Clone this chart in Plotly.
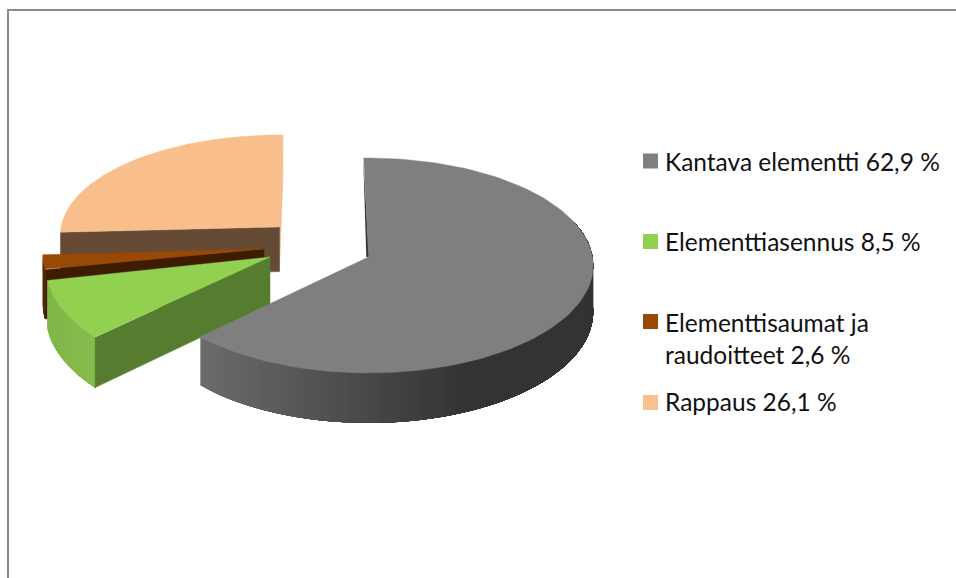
import numpy as np
import plotly.graph_objects as go

# Chart data
names = ["Kantava elementti", "Elementtiasennus", "Elementtisaumat ja<br>raudoitteet", "Rappaus"]
values = [62.9, 8.5, 2.6, 26.1]

# Fill colours per slice: top face, outer wall (start, end), cut wall
top_colors = ["#7F7F7F", "#92D050", "#984807", "#F8BF8D"]
outer_colors = [("#6C6C6C", "#333333"), ("#7FB548", "#85BB4D"), ("#5A2A02", "#5A2A02"), None]
cut_colors = ["#333333", "#567D2F", "#3E1C00", "#654A36"]
legend_colors = ["#7F7F7F", "#92D050", "#984807", "#FAC08F"]

# Projection of the tilted pie onto the page
RADIUS, MINOR, PERSPECTIVE = 224.0, 106.8, 0.0791
DEPTH = 46.0
START_ANGLE = -1.6
# Exploded position and per-slice adjustments: centre x/y, x scale, y scale, turn, depth scale
placement = [
    (368.5, 257.0, 1.00, 1.00, 0.3, 1.00),
    (270.0, 257.0, 1.00, 1.06, 2.8, 1.03),
    (264.0, 249.0, 0.985, 0.85, 1.6, 1.05),
    (279.5, 227.0, 0.975, 0.93, 2.2, 0.97),
]
DARK_FROM_X = 470.0  # the large slice's wall reaches its darkest shade here


def project(index, theta_deg, drop=0.0):
    cx, cy, sx, sy, turn, ds = placement[index]
    t = np.radians(np.asarray(theta_deg, dtype=float) + turn)
    v = -np.cos(t)
    s = 1.0 / (1.0 - PERSPECTIVE * v)
    x = cx + RADIUS * sx * np.sin(t) * s
    y = cy + MINOR * sy * v * s + DEPTH * ds * s * drop
    return x, y


def apex(index, drop=0.0):
    cx, cy, _, _, _, ds = placement[index]
    return cx, cy + DEPTH * ds * drop


def mix(c0, c1, f):
    a = [int(c0[i:i + 2], 16) for i in (1, 3, 5)]
    b = [int(c1[i:i + 2], 16) for i in (1, 3, 5)]
    return "#" + "".join(f"{round(p + (q - p) * f):02X}" for p, q in zip(a, b))


def poly(x, y, color, edge=0.0):
    fig.add_trace(go.Scatter(
        x=list(x), y=list(y), mode="lines", fill="toself", fillcolor=color,
        line=dict(color=color, width=edge), hoverinfo="skip", showlegend=False,
    ))


fig = go.Figure()

edges = START_ANGLE + np.concatenate([[0.0], np.cumsum(values)]) * 3.6

# Back-to-front painting order so nearer slices cover farther ones
for i in [3, 2, 1, 0]:
    a0, a1 = edges[i], edges[i + 1]
    ax0, ay0 = apex(i)
    ax1, ay1 = apex(i, 1.0)

    # Outer wall, shaded in overlapping strips painted from the far end back to the start
    if outer_colors[i] is not None:
        lo = max(a0, 70.0)
        n = max(2, int((a1 - lo) / 1.5))
        steps = np.linspace(lo, a1, n + 1)
        x_end = project(i, a1)[0]
        for j in range(n):
            stop = n - j
            th = np.linspace(lo, steps[stop], stop + 2)
            xt, yt = project(i, th)
            xb, yb = project(i, th, 1.0)
            mid = steps[stop - 1]
            if i == 0:
                f = np.clip((project(0, mid)[0] - x_end) / (DARK_FROM_X - x_end), 0, 1)
            else:
                f = (a1 - mid) / (a1 - lo)
            c = mix(outer_colors[i][0], outer_colors[i][1], f)
            poly(np.r_[xt, xb[::-1], xt[0]], np.r_[yt, yb[::-1], yt[0]], c)

    # Cut wall along the end edge of the last sector, just showing past its rim
    if i == 3:
        xr0, yr0 = project(i, a1)
        xr1, yr1 = project(i, a1, 1.0)
        poly([xr0, xr1, ax1, ax0, xr0], [yr0, yr1, ay1, ay0, yr0], "#F0BC8E", 0.5)

    # Cut wall along the start edge of the sector
    if i != 0:
        xr0, yr0 = project(i, a0)
        xr1, yr1 = project(i, a0, 1.0)
        poly([xr0, xr1, ax1, ax0, xr0], [yr0, yr1, ay1, ay0, yr0], cut_colors[i], 0.5)

    # Thin dark cut visible behind the leading edge of the large slice
    if i == 0:
        xr0, yr0 = project(0, a0)
        poly([xr0 - 0.6, ax0 - 2.2, ax0 + 0.6, xr0 - 0.6], [yr0, ay0, ay0, yr0], cut_colors[0])

    # Top face
    th = np.linspace(a0, a1, 120)
    xt, yt = project(i, th)
    poly(np.r_[ax0, xt, ax0], np.r_[ay0, yt, ay0], top_colors[i], 0.4)

# Legend keys
key_x = [650.5] * 4
key_y = [161, 241.5, 321.5, 402.5]
fig.add_trace(go.Scatter(
    x=key_x, y=key_y, mode="markers",
    marker=dict(symbol="square", size=15, color=legend_colors, line=dict(width=0)),
    hoverinfo="skip", showlegend=False,
))

# Legend texts
text_y = [161, 241, 338, 401]
annotations = []
for name, value, y in zip(names, values, text_y):
    label = f"{name} {value:.1f} %".replace(".", ",")
    annotations.append(dict(
        x=663, y=y, xref="x", yref="y", text=label, showarrow=False,
        xanchor="left", yanchor="middle", align="left",
        font=dict(family="Lato", size=24.5, color="#111111"),
    ))

fig.update_layout(
    width=956, height=578, autosize=False,
    margin=dict(l=0, r=0, t=0, b=0),
    paper_bgcolor="white", plot_bgcolor="white",
    xaxis=dict(range=[0, 956], visible=False, fixedrange=True),
    yaxis=dict(range=[578, 0], visible=False, fixedrange=True),
    annotations=annotations,
    shapes=[
        dict(type="line", xref="x", yref="y", x0=8, x1=8, y0=9, y1=578, line=dict(color="#8A8A8A", width=2)),
        dict(type="line", xref="x", yref="y", x0=7, x1=956, y0=10, y1=10, line=dict(color="#8A8A8A", width=2)),
    ],
)

fig.write_html("out.html")
